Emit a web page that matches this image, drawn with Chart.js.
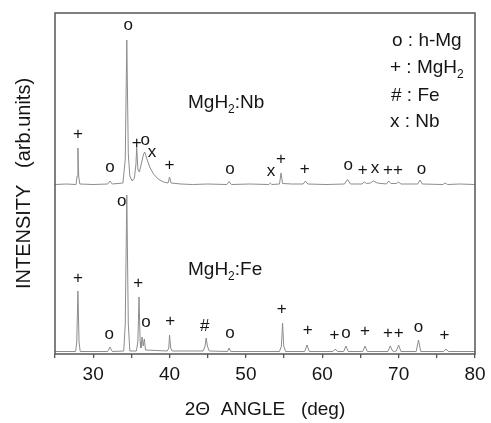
<!DOCTYPE html>
<html>
<head>
<meta charset="utf-8">
<script src="https://cdn.jsdelivr.net/npm/chart.js@4"></script>
<style>
  html, body { margin: 0; padding: 0; background: #fff; }
  #wrap { width: 491px; height: 423px; }
</style>
</head>
<body>
<div id="wrap"><canvas id="xrd"></canvas></div>
<script>
// MgH2:Fe pattern (lower trace)
const feAngle = [25.0, 27.7, 27.85, 28.0, 28.15, 28.3, 31.9, 32.2, 32.5, 34.0, 34.2, 34.4, 34.6, 34.8,
  35.65, 35.85, 36.0, 36.15, 36.25, 36.4, 36.55, 36.7, 36.85, 39.7, 39.9, 40.0, 40.15, 40.35,
  44.4, 44.65, 44.8, 44.95, 45.2, 47.6, 47.8, 48.0, 54.4, 54.65, 54.8, 54.95, 55.2,
  57.7, 58.0, 58.3, 61.4, 61.7, 62.0, 62.8, 63.1, 63.4, 65.3, 65.6, 65.9,
  68.6, 68.9, 69.2, 69.45, 69.7, 70.0, 70.3, 72.3, 72.6, 72.9, 75.9, 76.2, 76.5, 80.0];
const feCount = [2.5, 2.5, 12, 63, 12, 2.5, 2.5, 7, 2.5, 3, 30, 159, 30, 3,
  3, 12, 57, 12, 6, 17, 8, 15, 4, 3, 6, 19, 6, 3,
  3, 8, 16, 8, 3, 2.5, 6, 2.5, 2.5, 8, 31, 8, 2.5,
  2.5, 9, 2.5, 2.5, 5, 2.5, 2.5, 8, 2.5, 2.5, 8, 2.5,
  2.5, 8, 3, 2.5, 3, 9, 2.5, 2.5, 14, 2.5, 2.5, 5, 2.5, 2.5];

// MgH2:Nb pattern (upper trace, offset)
const nbAngle = [25.0, 26.5, 27.75, 27.9, 28.0, 28.1, 28.25, 30.0, 31.9, 32.2, 32.5, 33.9, 34.2, 34.4, 34.6, 34.8,
  35.1, 35.4, 35.6, 35.7, 35.85, 36.05, 36.3, 36.6, 36.75, 37.0, 37.4, 37.9, 38.5, 39.2, 39.8, 40.0, 40.2,
  41.5, 43.0, 45.0, 47.5, 47.8, 48.1, 50.5, 53.0, 53.2, 53.4, 54.4, 54.6, 54.8, 56.0, 57.5, 57.8, 58.1,
  60.5, 62.9, 63.3, 63.7, 65.2, 65.5, 65.8, 66.3, 66.7, 67.2, 68.4, 68.7, 69.0, 69.7, 70.0, 70.3,
  72.5, 72.8, 73.1, 75.8, 76.1, 76.4, 78.0, 80.0];
const nbCount = [169.5, 170, 169.5, 178, 206, 178, 170, 169.5, 170, 173, 170, 171, 195, 314, 200, 178,
  173, 176, 190, 207, 185, 182, 190, 200, 202, 196, 187, 180, 175, 172, 171, 177, 171,
  170, 169.5, 170, 169.5, 172.5, 169.5, 170, 169.5, 171, 169.5, 170, 181, 170.5, 170, 170, 173, 170,
  169.5, 170, 174.5, 170, 170, 172, 170.5, 171, 173, 171, 170, 173, 170.5, 170.5, 172, 170,
  170, 174, 170, 169.5, 171, 169.5, 170, 169.5];

// phase marks above the peaks
const markAngle = [28.0, 32.1, 33.75, 35.9, 36.9, 40.1, 44.6, 47.9, 54.7, 58.1, 61.6, 63.1, 65.6, 68.6, 70.0, 72.6, 76.0,
  28.0, 32.2, 34.6, 35.7, 36.8, 37.7, 40.0, 47.9, 53.3, 54.6, 57.7, 63.4, 65.3, 66.9, 68.6, 69.9, 73.0];
const markLevel = [77, 19, 152, 72, 31, 34, 29, 20, 46, 25, 20, 20, 24, 22, 22, 26, 20,
  221, 186, 328, 212, 213, 201, 190, 184, 182, 196, 186, 188, 185, 185, 185, 185, 184];
const markSymbol = ['+', 'o', 'o', '+', 'o', '+', '#', 'o', '+', '+', '+', 'o', '+', '+', '+', 'o', '+',
  '+', 'o', 'o', '+', 'o', 'x', '+', 'o', 'x', '+', '+', 'o', '+', 'x', '+', '+', 'o'];

const xTicks = [30, 40, 50, 60, 70, 80];

const FONT = '"Liberation Sans", Arial, Helvetica, sans-serif';
const INK = '#151515';

function toPoints(xs, ys) {
  return xs.map((v, i) => ({x: v, y: ys[i]}));
}

// draws "MgH" + subscript "2" + rest, starting at x, baseline y
function chemText(ctx, parts, x, y, size) {
  parts.forEach(p => {
    if (p.sub) {
      ctx.font = Math.round(size * 0.65) + 'px ' + FONT;
      ctx.fillText(p.t, x, y + size * 0.28);
    } else {
      ctx.font = size + 'px ' + FONT;
      ctx.fillText(p.t, x, y);
    }
    x += ctx.measureText(p.t).width;
  });
}

const annotations = {
  id: 'annotations',
  afterDraw(chart) {
    const {ctx, chartArea, scales: {x, y}} = chart;
    ctx.save();
    // frame
    ctx.strokeStyle = '#555';
    ctx.lineWidth = 1.5;
    ctx.strokeRect(chartArea.left, chartArea.top, chartArea.right - chartArea.left, chartArea.bottom - chartArea.top);

    // peak marks
    ctx.fillStyle = INK;
    ctx.textAlign = 'center';
    ctx.textBaseline = 'alphabetic';
    const fs = 17;
    ctx.font = fs + 'px ' + FONT;
    markAngle.forEach((a, i) => {
      const s = markSymbol[i];
      const lower = (s === 'o' || s === 'x');
      const px = x.getPixelForValue(a);
      const py = y.getPixelForValue(markLevel[i]);
      ctx.fillText(s, px, py + (lower ? 0.26 : 0.34) * fs);
    });

    // sample labels
    ctx.textAlign = 'left';
    chemText(ctx, [{t: 'MgH'}, {t: '2', sub: true}, {t: ':Nb'}], 188, 108, 19);
    chemText(ctx, [{t: 'MgH'}, {t: '2', sub: true}, {t: ':Fe'}], 188, 275, 19);

    // key
    chemText(ctx, [{t: 'o : h-Mg'}], 392, 46, 19);
    chemText(ctx, [{t: '+ : MgH'}, {t: '2', sub: true}], 390, 73, 19);
    chemText(ctx, [{t: '# : Fe'}], 391, 101, 19);
    chemText(ctx, [{t: 'x : Nb'}], 390, 127, 19);
    ctx.restore();
  }
};

const ctx = document.getElementById('xrd').getContext('2d');
const xrdChart = new Chart(ctx, {
  type: 'scatter',
  data: {
    datasets: [
      {
        label: 'MgH2:Nb',
        data: toPoints(nbAngle, nbCount),
        showLine: true,
        borderColor: '#8c8c8c',
        borderWidth: 1,
        pointRadius: 0,
        tension: 0
      },
      {
        label: 'MgH2:Fe',
        data: toPoints(feAngle, feCount),
        showLine: true,
        borderColor: '#8c8c8c',
        borderWidth: 1,
        pointRadius: 0,
        tension: 0
      }
    ]
  },
  options: {
    responsive: true,
    maintainAspectRatio: false,
    animation: false,
    layout: {
      padding: {top: 13, right: 16, left: 0, bottom: 0}
    },
    plugins: {
      legend: {display: false},
      tooltip: {enabled: false}
    },
    scales: {
      x: {
        type: 'linear',
        min: 25,
        max: 80,
        afterFit: scale => { scale.height = 69; },
        afterBuildTicks: scale => {
          const t = [];
          for (let v = 25; v <= 80; v += 5) t.push({value: v});
          scale.ticks = t;
        },
        ticks: {
          color: INK,
          font: {family: FONT, size: 19},
          padding: 5,
          maxRotation: 0,
          autoSkip: false,
          callback: value => xTicks.includes(value) ? String(value) : ''
        },
        grid: {
          drawOnChartArea: false,
          drawTicks: true,
          tickLength: 4,
          color: '#555',
          lineWidth: 1.3
        },
        border: {display: false},
        title: {
          display: true,
          text: '2\u0398  ANGLE   (deg)',
          color: INK,
          font: {family: FONT, size: 19},
          padding: {top: 0, bottom: 2}
        }
      },
      y: {
        min: 0,
        max: 341,
        afterFit: scale => { scale.width = 55; },
        ticks: {display: false},
        grid: {display: false},
        border: {display: false},
        title: {
          display: true,
          text: 'INTENSITY   (arb.units)',
          color: INK,
          font: {family: FONT, size: 20},
          padding: {top: 12, bottom: 0}
        }
      }
    }
  },
  plugins: [annotations]
});
</script>
</body>
</html>
